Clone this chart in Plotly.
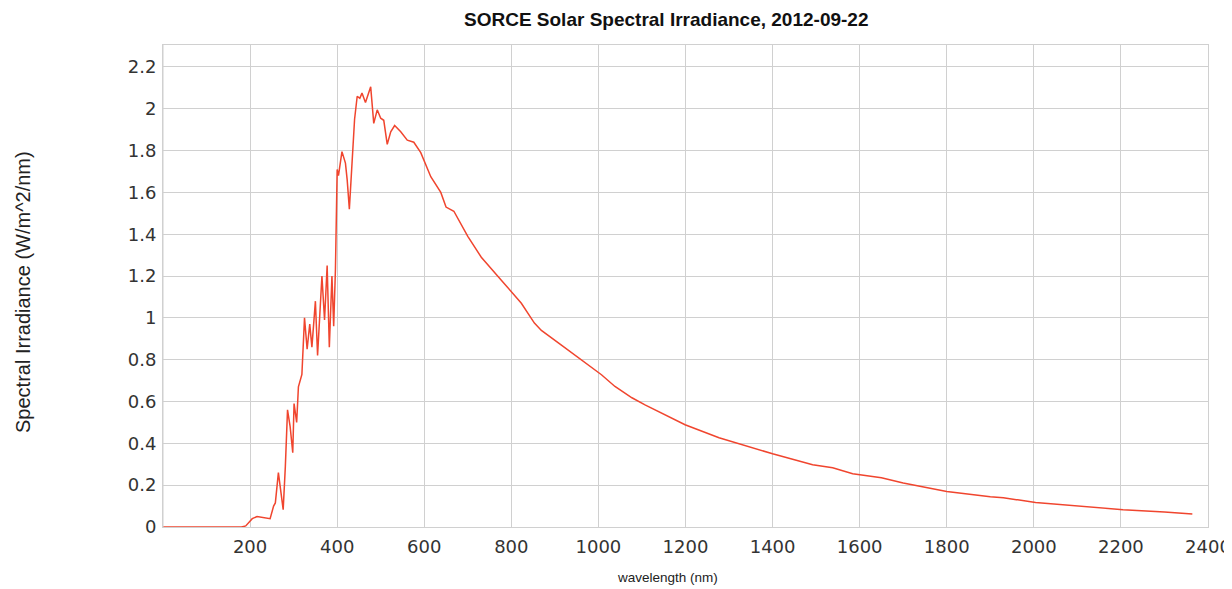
import plotly.graph_objects as go

wavelength_nm = [0, 100, 180, 190, 196, 205, 216, 230, 246, 254, 258, 265, 270, 276, 281, 286,
                 292, 298, 301, 307, 311, 319, 325, 331, 337, 342, 350, 355, 365, 371, 377,
                 382, 388, 392, 396, 400, 403, 411, 419, 423, 428, 435, 440, 446, 452, 457,
                 465, 477, 484, 492, 500, 507, 515, 523, 532, 546, 561, 576, 592, 615, 638,
                 650, 668, 700, 731, 777, 823, 853, 869, 915, 961, 1007, 1038, 1077, 1107,
                 1161, 1199, 1277, 1353, 1400, 1492, 1538, 1584, 1650, 1700, 1800, 1900,
                 1930, 2004, 2100, 2205, 2300, 2364]
irradiance = [0.0, 0.0, 0.0, 0.005, 0.02, 0.04, 0.05, 0.045, 0.04, 0.1, 0.115, 0.26, 0.18, 0.083,
              0.29, 0.56, 0.48, 0.355, 0.59, 0.50, 0.67, 0.73, 1.0, 0.85, 0.97, 0.86, 1.08,
              0.82, 1.20, 0.99, 1.25, 0.86, 1.20, 0.96, 1.23, 1.71, 1.68, 1.795, 1.74, 1.66,
              1.52, 1.77, 1.95, 2.06, 2.05, 2.075, 2.03, 2.105, 1.93, 1.995, 1.955, 1.945,
              1.83, 1.89, 1.92, 1.89, 1.85, 1.84, 1.79, 1.675, 1.60, 1.53, 1.51, 1.39, 1.29,
              1.18, 1.07, 0.975, 0.94, 0.87, 0.80, 0.728, 0.672, 0.618, 0.584, 0.528, 0.489,
              0.427, 0.379, 0.35, 0.298, 0.283, 0.255, 0.235, 0.21, 0.17, 0.145, 0.14, 0.117,
              0.10, 0.083, 0.072, 0.062]

x_ticks = [200, 400, 600, 800, 1000, 1200, 1400, 1600, 1800, 2000, 2200, 2400]
y_ticks = [0, 0.2, 0.4, 0.6, 0.8, 1, 1.2, 1.4, 1.6, 1.8, 2, 2.2]
y_tick_text = ["0", "0.2", "0.4", "0.6", "0.8", "1", "1.2", "1.4", "1.6", "1.8", "2", "2.2"]

title_text = "SORCE Solar Spectral Irradiance, 2012-09-22"
x_title = "wavelength (nm)"
y_title = "Spectral Irradiance (W/m^2/nm)"

# the page body has an 8px margin; work in screen pixels and offset
OFF = 8
W, H = 1232 - OFF, 589 - OFF
PL, PR, PT, PB = 163, 1208, 45, 527          # plot area in screen pixels
L, R, T, B = PL - OFF, W - (PR - OFF), PT - OFF, H - (PB - OFF)


def px(sx):
    return (sx - PL) / (PR - PL)


def py(sy):
    return (PB - sy) / (PB - PT)


fig = go.Figure()
fig.add_trace(go.Scatter(x=wavelength_nm, y=irradiance, mode="lines",
                         line=dict(color="#f0452e", width=1.5), showlegend=False))

grid = "#d0d0d0"
tickfont = dict(family="DejaVu Sans, Verdana", size=18, color="#333")
fig.update_layout(
    width=W, height=H,
    margin=dict(l=L, r=R, t=T, b=B, autoexpand=False),
    paper_bgcolor="white", plot_bgcolor="white",
    xaxis=dict(range=[0, 2400], tickvals=x_ticks, showgrid=True, gridcolor=grid, gridwidth=1,
               showline=True, linecolor=grid, mirror=True, zeroline=False, ticks="",
               automargin=False, ticklabelstandoff=3, tickfont=tickfont),
    yaxis=dict(range=[0, 2.305], tickvals=y_ticks, ticktext=y_tick_text, showgrid=True,
               gridcolor=grid, gridwidth=1, showline=True, linecolor=grid, mirror=True,
               zeroline=False, ticks="", automargin=False, ticklabelstandoff=2,
               tickfont=tickfont),
    annotations=[
        dict(text="<b>" + title_text + "</b>", xref="paper", yref="paper",
             x=px(666), y=py(20), xanchor="center", yanchor="middle", showarrow=False,
             font=dict(family="Liberation Sans, Arial", size=19, color="#111")),
        dict(text=x_title, xref="paper", yref="paper",
             x=px(667), y=py(577), xanchor="center", yanchor="middle", showarrow=False,
             font=dict(family="Liberation Sans, Arial", size=13.5, color="#222")),
        dict(text=y_title, xref="paper", yref="paper", textangle=-90,
             x=px(23), y=py(292), xanchor="center", yanchor="middle", showarrow=False,
             font=dict(family="Liberation Sans, Arial", size=20, color="#222")),
    ],
)
fig.add_vline(x=0, line=dict(color=grid, width=1))
fig.write_html("out.html")
